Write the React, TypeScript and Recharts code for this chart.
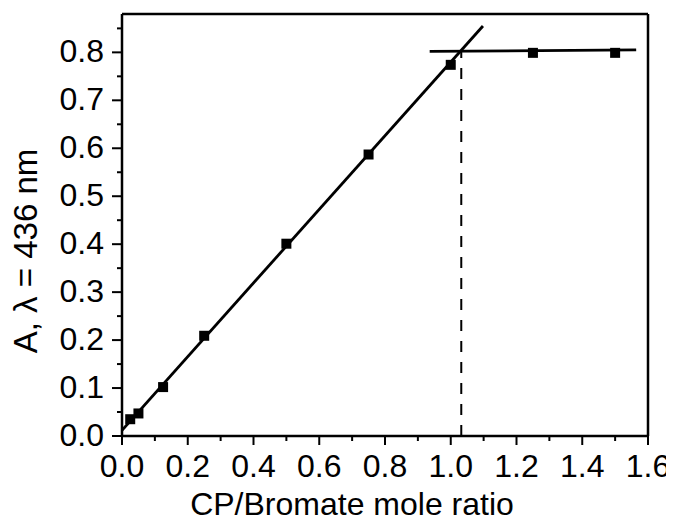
import React from "react";
import { ComposedChart, XAxis, YAxis, Line, Scatter, ReferenceLine, Label } from "recharts";

const FONT = "'Liberation Sans', Arial, Helvetica, sans-serif";

// measured points
const ratio = [0.025, 0.05, 0.125, 0.25, 0.5, 0.75, 1.0, 1.25, 1.5];
const absorbance = [0.035, 0.047, 0.102, 0.209, 0.401, 0.587, 0.774, 0.799, 0.799];

// rising straight-line fit (drawn segment ends)
const riseFitX = [0, 1.098];
const riseFitY = [0.012, 0.855];

// plateau straight-line fit
const plateauFitX = [0.936, 1.564];
const plateauFitY = [0.802, 0.805];

// dashed end-point marker
const endpointX = [1.032, 1.032];
const endpointY = [0, 0.803];

const xTicks = [0, 0.1, 0.2, 0.3, 0.4, 0.5, 0.6, 0.7, 0.8, 0.9, 1.0, 1.1, 1.2, 1.3, 1.4, 1.5, 1.6];
const yTicks = [0, 0.05, 0.1, 0.15, 0.2, 0.25, 0.3, 0.35, 0.4, 0.45, 0.5, 0.55, 0.6, 0.65, 0.7, 0.75, 0.8, 0.85];

const xTitle = "CP/Bromate mole ratio";
const yTitle = "A, \u03bb = 436 nm";

const points = ratio.map((x, i) => ({ x, y: absorbance[i] }));
const riseFit = riseFitX.map((x, i) => ({ x, y: riseFitY[i] }));
const plateauFit = plateauFitX.map((x, i) => ({ x, y: plateauFitY[i] }));
const endpoint = endpointX.map((x, i) => ({ x, y: endpointY[i] }));

const isMajor = (v: number, step: number) => Math.abs(v / step - Math.round(v / step)) < 1e-6;

const XTick = (props: any) => {
  const { x, y, payload } = props;
  const v = payload.value as number;
  const major = isMajor(v, 0.2);
  return (
    <g>
      <line x1={x} x2={x} y1={y} y2={y + (major ? 9 : 5)} stroke="#000" strokeWidth={2} />
      {major && (
        <text x={x} y={y + 41} textAnchor="middle" fontSize={32} fontFamily={FONT} fill="#000">
          {v.toFixed(1)}
        </text>
      )}
    </g>
  );
};

const YTick = (props: any) => {
  const { x, y, payload } = props;
  const v = payload.value as number;
  const major = isMajor(v, 0.1);
  return (
    <g>
      <line x1={x} x2={x - (major ? 10 : 5)} y1={y} y2={y} stroke="#000" strokeWidth={2} />
      {major && (
        <text x={x - 18} y={y + 10} textAnchor="end" fontSize={32} fontFamily={FONT} fill="#000">
          {v.toFixed(1)}
        </text>
      )}
    </g>
  );
};

const Square = (props: any) => {
  const { cx, cy } = props;
  return <rect x={cx - 5} y={cy - 5} width={10} height={10} fill="#000" />;
};

export default function App() {
  return (
    <div style={{ width: 666, height: 514 }}>
      <style>{"html,body{overflow:hidden}"}</style>
      <ComposedChart width={666} height={514} margin={{ top: 6, right: 26, bottom: 8, left: 0 }}>
        <XAxis
          type="number"
          dataKey="x"
          domain={[0, 1.6]}
          ticks={xTicks}
          interval={0}
          tick={<XTick />}
          tickLine={false}
          tickSize={0}
          tickMargin={0}
          height={78}
          axisLine={{ stroke: "#000", strokeWidth: 2.5 }}
          allowDataOverflow
        >
          <Label
            content={(p: any) => {
              const vb = p.viewBox || { x: 114, y: 428 };
              return (
                <text x={vb.x + 230} y={vb.y + 79} textAnchor="middle" fontSize={32} fontFamily={FONT} fill="#000">
                  {xTitle}
                </text>
              );
            }}
          />
        </XAxis>
        <YAxis
          type="number"
          dataKey="y"
          domain={[0, 0.88]}
          ticks={yTicks}
          interval={0}
          tick={<YTick />}
          tickLine={false}
          tickSize={0}
          tickMargin={0}
          width={114}
          axisLine={{ stroke: "#000", strokeWidth: 2.5 }}
          allowDataOverflow
        >
          <Label
            content={() => (
              <text
                x={29}
                y={243}
                transform="rotate(-90, 29, 243)"
                textAnchor="middle"
                fontSize={33}
                fontFamily={FONT}
                fill="#000"
              >
                {yTitle}
              </text>
            )}
          />
        </YAxis>
        <ReferenceLine y={0.88} stroke="#000" strokeWidth={2.5} />
        <ReferenceLine x={1.6} stroke="#000" strokeWidth={2.5} />
        <Line
          data={endpoint}
          dataKey="y"
          type="linear"
          stroke="#000"
          strokeWidth={2}
          strokeDasharray="11 10"
          dot={false}
          activeDot={false}
          isAnimationActive={false}
        />
        <Line
          data={riseFit}
          dataKey="y"
          type="linear"
          stroke="#000"
          strokeWidth={2.8}
          dot={false}
          activeDot={false}
          isAnimationActive={false}
        />
        <Line
          data={plateauFit}
          dataKey="y"
          type="linear"
          stroke="#000"
          strokeWidth={2.8}
          dot={false}
          activeDot={false}
          isAnimationActive={false}
        />
        <Scatter data={points} dataKey="y" shape={<Square />} isAnimationActive={false} />
      </ComposedChart>
    </div>
  );
}
